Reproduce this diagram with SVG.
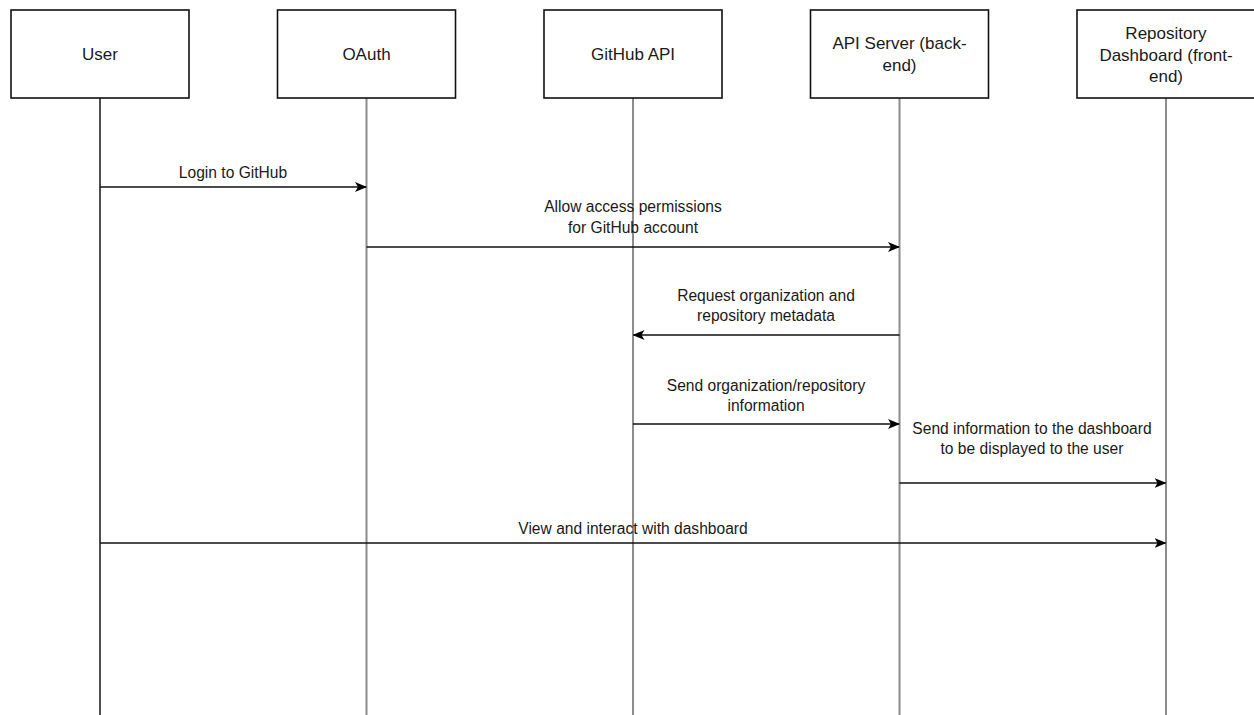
<svg xmlns="http://www.w3.org/2000/svg" width="1254" height="715" viewBox="0 0 1254 715">
<style>
.box{fill:#fff;stroke:#111;stroke-width:1.6}
.life{stroke:#8c8c8c;stroke-width:2;fill:none}
.life0{stroke:#222;stroke-width:1.6;fill:none}
.msg{stroke:#111;stroke-width:1.5;fill:none;marker-end:url(#ah)}
text{font-family:"Liberation Sans",Arial,Helvetica,sans-serif;font-size:17px;fill:#1a1a1a;text-anchor:middle}
.lbl{font-size:15.6px}
</style>
<defs>
<marker id="ah" viewBox="0 0 12 10" refX="11" refY="5" markerWidth="12" markerHeight="10" markerUnits="userSpaceOnUse" orient="auto">
<path d="M0,0 L12,5 L0,10 L3,5 Z" fill="#000"/>
</marker>
</defs>
<rect width="1254" height="715" fill="#fff"/>
<g id="lifelines">
<line class="life0" x1="100" y1="98" x2="100" y2="715"/>
<line class="life" x1="366.5" y1="98" x2="366.5" y2="715"/>
<line class="life" x1="633" y1="98" x2="633" y2="715"/>
<line class="life" x1="899.5" y1="98" x2="899.5" y2="715"/>
<line class="life" x1="1166" y1="98" x2="1166" y2="715"/>
</g>
<g id="user"><rect class="box" x="11" y="10" width="178" height="88"/><text x="100" y="60">User</text></g>
<g id="oauth"><rect class="box" x="277.5" y="10" width="178" height="88"/><text x="366.5" y="60">OAuth</text></g>
<g id="github-api"><rect class="box" x="544" y="10" width="178" height="88"/><text x="633" y="60">GitHub API</text></g>
<g id="api-server"><rect class="box" x="810.5" y="10" width="178" height="88"/><text x="899.5" y="49">API Server (back-</text><text x="899.5" y="71">end)</text></g>
<g id="dashboard"><rect class="box" x="1077" y="10" width="178" height="88"/><text x="1166" y="39">Repository</text><text x="1166" y="61">Dashboard (front-</text><text x="1166" y="82">end)</text></g>
<g id="connectors">
<line class="msg" x1="100" y1="187" x2="366" y2="187"/>
<text class="lbl" x="233" y="178">Login to GitHub</text>
<line class="msg" x1="366.5" y1="247" x2="899" y2="247"/>
<text class="lbl" x="633" y="212">Allow access permissions</text>
<text class="lbl" x="633" y="233">for GitHub account</text>
<line class="msg" x1="899.5" y1="335" x2="633.5" y2="335"/>
<text class="lbl" x="766" y="301">Request organization and</text>
<text class="lbl" x="766" y="321">repository metadata</text>
<line class="msg" x1="633" y1="424" x2="899" y2="424"/>
<text class="lbl" x="766" y="391">Send organization/repository</text>
<text class="lbl" x="766" y="411">information</text>
<line class="msg" x1="899.5" y1="483" x2="1165.5" y2="483"/>
<text class="lbl" x="1032" y="434">Send information to the dashboard</text>
<text class="lbl" x="1032" y="454">to be displayed to the user</text>
<line class="msg" x1="100" y1="543" x2="1165.5" y2="543"/>
<text class="lbl" x="633" y="534">View and interact with dashboard</text>
</g>
</svg>
